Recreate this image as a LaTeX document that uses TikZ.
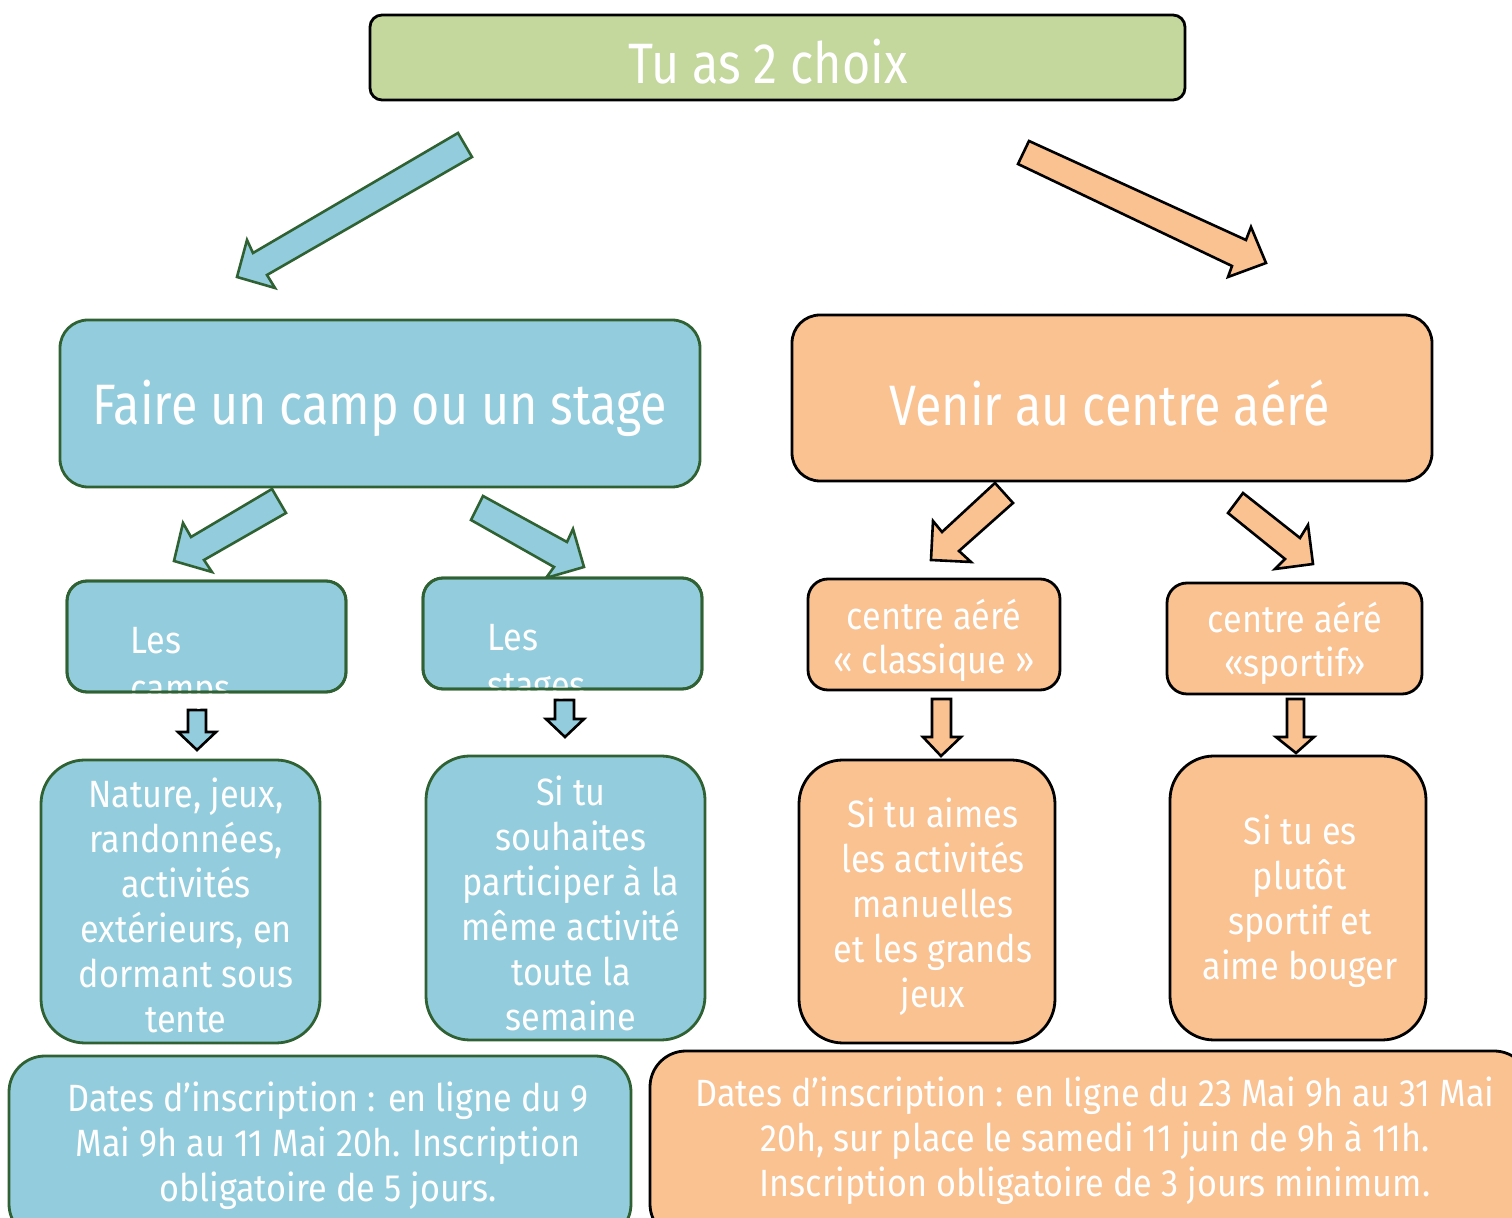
\documentclass[tikz,border=0pt]{standalone}
\usepackage{fontspec}
\setmainfont{Fira Sans}[FakeStretch=0.85]
\newfontfamily\bodyfont{Fira Sans}[FakeStretch=0.9]
\definecolor{bluef}{HTML}{93CDDD}
\definecolor{greenb}{HTML}{2F6132}
\definecolor{orangef}{HTML}{FAC191}
\definecolor{titlef}{HTML}{C4D79D}
\tikzset{
  bbox/.style={draw=greenb, fill=bluef, line width=1.4pt, rectangle, inner sep=0pt},
  obox/.style={draw=black, fill=orangef, line width=1.4pt, rectangle, inner sep=0pt},
  bline/.style={draw=greenb, line width=1.4pt, rectangle, inner sep=0pt},
  barrow/.style={draw=greenb, fill=bluef, line width=1.3pt, line join=miter},
  oarrow/.style={draw=black, fill=orangef, line width=1.3pt, line join=miter},
  darrowb/.style={draw=black, fill=bluef, line width=1.3pt, line join=miter},
  txt/.style={text=white, align=center, inner sep=0pt},
  body/.style={txt, font=\bodyfont\fontsize{19pt}{22.5pt}\selectfont},
  small/.style={txt, font=\bodyfont\fontsize{19pt}{22pt}\selectfont},
  big/.style={txt, font=\fontsize{28.5pt}{32pt}\selectfont},
}
\begin{document}
\begin{tikzpicture}[x=0.5pt,y=-0.5pt]
\useasboundingbox (0,0) rectangle (1512,1218);
\clip (0,0) rectangle (1512,1218);
% title
\node[draw=black, fill=titlef, line width=1.4pt, rounded corners=6pt, minimum width=407.5pt, minimum height=42.5pt, inner sep=0pt] (title) at (777.5,57.5) {};
\node[big] (titletxt) at (768,62) {Tu as 2 choix};
% big arrows
\draw[barrow] (458,133) -- (472,157) -- (267,275) -- (275,288) -- (237,277) -- (247,240) -- (253,253) -- cycle;
\draw[oarrow] (1029,141) -- (1018,164) -- (1232,266) -- (1228,277) -- (1266,263) -- (1251,227) -- (1246,240) -- cycle;
% level 1 boxes
\node[bbox, rounded corners=14pt, minimum width=320pt, minimum height=83.5pt] (camp) at (380,403.5) {};
\node[big] (camptxt) at (380,408) {Faire un camp ou un stage};
\node[obox, rounded corners=14pt, minimum width=320pt, minimum height=83pt] (centre) at (1112,398) {};
\node[big] (centretxt) at (1110,403) {Venir au centre aéré};
% mid arrows
\draw[barrow] (272,489) -- (286,513) -- (204,560) -- (212,572) -- (174,561) -- (183,523) -- (191,537) -- cycle;
\draw[barrow] (483,496) -- (471,520) -- (554,567) -- (546,578) -- (584,567) -- (573,529) -- (567,542) -- cycle;
\draw[oarrow] (995,483) -- (1013,503) -- (959,551) -- (971,562) -- (931,560) -- (933,521) -- (942,532) -- cycle;
\draw[oarrow] (1243,493) -- (1228,513) -- (1285,559) -- (1275,569) -- (1313,564) -- (1308,525) -- (1300,538) -- cycle;
% level 2 boxes
\node[bbox, rounded corners=10pt, minimum width=139.5pt, minimum height=55.5pt] (camps) at (206.5,636.5) {};
\node[bbox, rounded corners=10pt, minimum width=139.5pt, minimum height=55.5pt] (stages) at (562.5,633.5) {};
\node[obox, rounded corners=10pt, minimum width=126pt, minimum height=55.5pt] (classique) at (934,634.5) {};
\node[obox, rounded corners=10pt, minimum width=127.5pt, minimum height=55.5pt] (sportif) at (1294.5,638.5) {};
% down arrows
\draw[darrowb] (188,710) -- (206,710) -- (206,732) -- (216,732) -- (197,750) -- (178,732) -- (188,732) -- cycle;
\draw[darrowb] (555,700) -- (574,700) -- (574,719) -- (584,719) -- (565,737) -- (546,719) -- (555,719) -- cycle;
\draw[oarrow] (932,699) -- (951,699) -- (951,737) -- (961,737) -- (941,756) -- (923,737) -- (932,737) -- cycle;
\draw[oarrow] (1287,699) -- (1304,699) -- (1304,737) -- (1314,737) -- (1296,753) -- (1276,737) -- (1287,737) -- cycle;
% texts of level 2
\node[small, align=left, anchor=west, font=\bodyfont\fontsize{19pt}{24pt}\selectfont] (campstxt) at (130,668) {Les\\camps};
\node[small, align=left, anchor=west, font=\bodyfont\fontsize{19pt}{24pt}\selectfont] (stagestxt) at (487,665) {Les\\stages};
\node[bline, rounded corners=10pt, minimum width=139.5pt, minimum height=55.5pt] (campsline) at (206.5,636.5) {};
\node[bline, rounded corners=10pt, minimum width=139.5pt, minimum height=55.5pt] (stagesline) at (562.5,633.5) {};
\node[small] (classtxt) at (934,640) {centre aéré\\« classique »};
\node[small] (sporttxt) at (1295,643) {centre aéré\\«sportif»};
% level 3 boxes
\node[bbox, rounded corners=22pt, minimum width=139.5pt, minimum height=141.5pt] (nature) at (180.5,901.5) {};
\node[body] (naturetxt) at (186,905) {Nature, jeux,\\randonnées,\\activités\\extérieurs, en\\dormant sous\\tente};
\node[bbox, rounded corners=22pt, minimum width=139.5pt, minimum height=142pt] (souhaites) at (565.5,898) {};
\node[body] (souhtxt) at (571,903) {Si tu\\souhaites\\participer à la\\même activité\\toute la\\semaine};
\node[obox, rounded corners=22pt, minimum width=128pt, minimum height=141.5pt] (aimes) at (927,901.5) {};
\node[body] (aimestxt) at (933,906.5) {Si tu aimes\\les activités\\manuelles\\et les grands\\jeux};
\node[obox, rounded corners=22pt, minimum width=128pt, minimum height=142pt] (es) at (1298,898) {};
\node[body] (estxt) at (1300,901.5) {Si tu es\\plutôt\\sportif et\\aime bouger};
% bottom boxes
\node[bbox, rounded corners=18pt, minimum width=311pt, minimum height=92pt] (dateleft) at (320,1148) {};
\node[body] (dlt) at (328,1146) {Dates d’inscription : en ligne du 9\\Mai 9h au 11 Mai 20h. Inscription\\obligatoire de 5 jours.};
\node[obox, rounded corners=18pt, minimum width=440pt, minimum height=94.5pt] (dateright) at (1090,1145.5) {};
\node[body] (drt) at (1095,1141) {Dates d’inscription : en ligne du 23 Mai 9h au 31 Mai\\20h, sur place le samedi 11 juin de 9h à 11h.\\Inscription obligatoire de 3 jours minimum.};
\end{tikzpicture}
\end{document}
